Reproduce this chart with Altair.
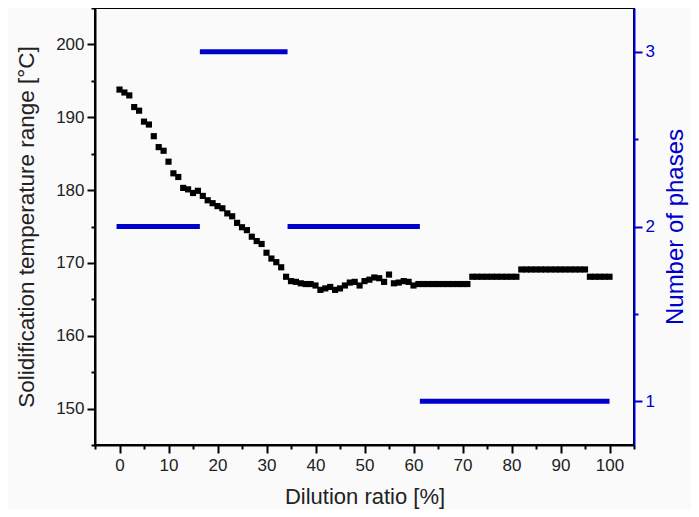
import altair as alt
import pandas as pd

# Dilution ratio [%] and solidification temperature range [°C]
dilution = list(range(0, 101))
temp_range = [
    193.8, 193.4, 193.0, 191.4, 190.9, 189.4, 189.0, 187.4, 185.9, 185.4,
    183.9, 182.3, 181.8, 180.3, 180.1, 179.6, 179.9, 179.2, 178.6, 178.2,
    177.8, 177.5, 176.8, 176.4, 175.5, 174.9, 174.5, 173.6, 173.0, 172.6,
    171.4, 170.6, 170.1, 169.4, 168.1, 167.5, 167.4, 167.2, 167.1, 167.1,
    166.9, 166.3, 166.5, 166.7, 166.3, 166.5, 166.9, 167.3, 167.4, 166.9,
    167.5, 167.7, 168.0, 167.9, 167.4, 168.4, 167.2, 167.3, 167.5, 167.4,
    166.9, 167.1, 167.1, 167.1, 167.1, 167.1, 167.1, 167.1, 167.1, 167.1,
    167.1, 167.1, 168.1, 168.1, 168.1, 168.1, 168.1, 168.1, 168.1, 168.1,
    168.1, 168.1, 169.1, 169.1, 169.1, 169.1, 169.1, 169.1, 169.1, 169.1,
    169.1, 169.1, 169.1, 169.1, 169.1, 169.1, 168.1, 168.1, 168.1, 168.1,
    168.1,
]

# Number of phases segments
phase_start = [-0.6, 16.4, 34.3, 61.3]
phase_end = [16.4, 34.3, 61.3, 100.0]
phase_count = [2, 3, 2, 1]

x_ticks = [-5 + 5 * i for i in range(23)]
y_ticks = [145 + 5 * i for i in range(13)]
y2_ticks = [1, 1.5, 2, 2.5, 3]

df = pd.DataFrame({"x": dilution, "y": temp_range})
dp = pd.DataFrame({"x": phase_start, "x2": phase_end, "p": phase_count})

FONT = "Liberation Sans"
BLUE = "#0000cc"
TXT = "#222222"

x_scale = alt.Scale(domain=[-5, 105], nice=False, zero=False)
x_axis = alt.Axis(
    title="Dilution ratio [%]",
    values=x_ticks,
    labelExpr="datum.value % 10 === 0 ? format(datum.value, 'd') : ''",
    labelOverlap=False,
    labelFlush=False,
    labelAngle=0,
    labelAlign="center",
    labelBaseline="top",
    tickSize={"condition": {"test": "datum.value % 10 === 0", "value": 8}, "value": 4},
    tickWidth=2,
    tickColor="black",
    domainColor="black",
    domainWidth=2,
    grid=False,
    labelFont=FONT,
    labelFontSize=17,
    labelColor=TXT,
    labelPadding=4,
    titleFont=FONT,
    titleFontSize=22,
    titleFontWeight="normal",
    titleColor=TXT,
    titlePadding=13,
)

points = alt.Chart(df).mark_square(size=38, color="black", opacity=1).encode(
    x=alt.X("x:Q", scale=x_scale, axis=x_axis),
    y=alt.Y(
        "y:Q",
        scale=alt.Scale(domain=[145, 205], nice=False, zero=False),
        axis=alt.Axis(
            title="Solidification temperature range [°C]",
            orient="left",
            values=y_ticks,
            labelExpr="datum.value % 10 === 0 ? format(datum.value, 'd') : ''",
            labelOverlap=False,
            tickSize={"condition": {"test": "datum.value % 10 === 0", "value": 8}, "value": 4},
            tickWidth=2,
            tickColor="black",
            domainColor="black",
            domainWidth=2,
            grid=False,
            labelFont=FONT,
            labelFontSize=17,
            labelColor=TXT,
            labelPadding=3,
            titleFont=FONT,
            titleFontSize=22.5,
            titleFontWeight="normal",
            titleColor=TXT,
            titlePadding=17,
        ),
    ),
)

phases = alt.Chart(dp).mark_rule(color=BLUE, strokeWidth=5, strokeCap="butt").encode(
    x=alt.X("x:Q", scale=x_scale, axis=x_axis),
    x2="x2:Q",
    y=alt.Y(
        "p:Q",
        scale=alt.Scale(domain=[0.75, 3.25], nice=False, zero=False),
        axis=alt.Axis(
            title="Number of phases",
            orient="right",
            values=y2_ticks,
            labelExpr="datum.value % 1 === 0 ? format(datum.value, 'd') : ''",
            labelOverlap=False,
            tickSize={"condition": {"test": "datum.value % 1 === 0", "value": 8}, "value": 4},
            tickWidth=2,
            tickColor=BLUE,
            domainColor=BLUE,
            domainWidth=2,
            grid=False,
            labelFont=FONT,
            labelFontSize=17,
            labelColor=BLUE,
            labelPadding=3,
            titleFont=FONT,
            titleFontSize=24,
            titleFontWeight="normal",
            titleColor=BLUE,
            titleAngle=270,
            titleBaseline="top",
            titlePadding=9,
        ),
    ),
)

chart = (
    alt.layer(points, phases)
    .resolve_scale(y="independent")
    .properties(
        width=539,
        height=437,
        autosize="none",
        padding={"left": 87, "top": 0, "right": 57, "bottom": 64},
        background="#fafafa",
    )
    .configure_view(stroke="black", strokeWidth=2)
)

chart.save("out.html", embed_options={"renderer": "svg", "actions": False})
